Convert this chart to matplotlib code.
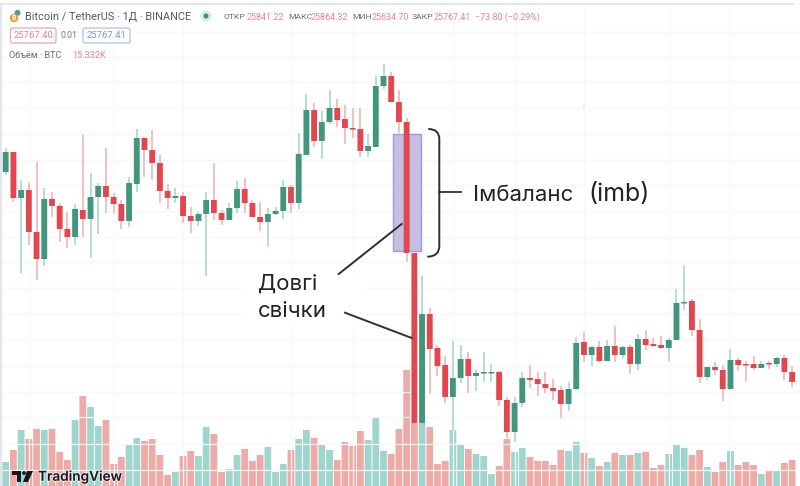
"""TradingView BTC/USDT screenshot with annotated imbalance zone."""

import matplotlib

matplotlib.use("Agg")
import matplotlib.pyplot as plt
import numpy as np
from matplotlib.patches import Circle, FancyBboxPatch, PathPatch, Polygon, Rectangle
from matplotlib.path import Path
import matplotlib.patheffects as pe

# Candle levels were read straight off the picture, so smaller means higher up.
direction = (
    "GRGRRGRRRG" "RGGRRRGGRR" "RRGRRGGRRG" "GRRRGGGRGG" "RGGRRRRGGG"
    "RRRRGRRRGG" "RGGGRRGGRR" "RRRGGRGRGR" "GRGRRRGGGR" "RGRRGRRRGR" "GRR"
)
wick_high = [
    148, 152, 180, 183, 162, 188, 192, 203, 212, 204,
    135, 173, 183, 148, 193, 200, 177, 129, 137, 130,
    155, 184, 188, 192, 207, 212, 192, 163, 210, 203,
    181, 178, 200, 202, 208, 207, 180, 185, 133, 94,
    103, 111, 90, 99, 105, 108, 108, 134, 76, 64,
    72, 90, 118, 253, 276, 308, 345, 356, 341, 345,
    352, 370, 352, 364, 371, 397, 397, 372, 365, 372,
    372, 379, 386, 382, 337, 332, 346, 341, 340, 326,
    346, 345, 334, 330, 338, 336, 338, 289, 265, 299,
    319, 367, 362, 365, 349, 358, 361, 356, 361, 361,
    357, 355, 366,
]
body_top = [
    152, 152, 190, 190, 232, 199, 199, 206, 229, 209,
    210, 197, 186, 186, 197, 204, 183, 138, 138, 150,
    163, 191, 196, 196, 216, 214, 200, 200, 213, 208,
    189, 189, 203, 217, 214, 211, 187, 187, 154, 110,
    110, 122, 108, 108, 119, 128, 129, 146, 86, 76,
    76, 102, 122, 253, 314, 314, 348, 365, 378, 359,
    359, 373, 372, 372, 372, 400, 403, 378, 378, 379,
    384, 388, 390, 389, 343, 342, 347, 347, 346, 346,
    347, 347, 339, 339, 344, 345, 340, 303, 302, 301,
    330, 367, 367, 370, 360, 360, 364, 364, 364, 363,
    358, 358, 372,
]
body_bottom = [
    172, 198, 198, 232, 259, 259, 206, 229, 237, 237,
    219, 219, 197, 197, 204, 221, 221, 184, 150, 163,
    191, 198, 198, 216, 221, 221, 214, 213, 220, 220,
    208, 203, 217, 222, 222, 214, 211, 203, 203, 155,
    141, 141, 122, 120, 128, 129, 151, 151, 147, 86,
    102, 122, 253, 423, 423, 349, 366, 397, 397, 378,
    376, 376, 373, 373, 400, 432, 432, 403, 380, 384,
    388, 391, 404, 404, 389, 355, 355, 361, 361, 355,
    355, 364, 364, 345, 346, 348, 348, 340, 303, 330,
    377, 377, 370, 389, 389, 365, 365, 368, 368, 364,
    364, 372, 382,
]
wick_low = [
    175, 202, 273, 245, 280, 266, 217, 242, 248, 245,
    237, 258, 234, 213, 213, 229, 227, 192, 177, 180,
    203, 209, 203, 223, 233, 226, 276, 220, 225, 220,
    213, 213, 217, 231, 247, 215, 219, 213, 209, 155,
    147, 159, 124, 127, 144, 138, 157, 157, 147, 89,
    102, 133, 262, 444, 433, 394, 376, 403, 430, 383,
    393, 391, 382, 382, 406, 438, 442, 407, 388, 396,
    393, 400, 418, 411, 390, 362, 366, 362, 361, 362,
    358, 374, 370, 350, 347, 349, 361, 340, 310, 336,
    383, 380, 375, 401, 390, 371, 381, 370, 368, 369,
    367, 380, 387,
]
volume = [
    24, 36, 56, 47, 57, 56, 57, 34, 26, 66,
    90, 79, 60, 66, 22, 29, 42, 48, 45, 47,
    31, 11, 14, 30, 35, 30, 59, 52, 14, 17,
    31, 37, 25, 31, 39, 14, 22, 36, 47, 56,
    48, 41, 36, 26, 44, 40, 55, 46, 68, 35,
    32, 57, 116, 63, 63, 59, 22, 25, 56, 41,
    37, 32, 30, 12, 20, 47, 34, 38, 29, 25,
    25, 21, 36, 35, 44, 33, 28, 20, 24, 33,
    31, 31, 33, 34, 18, 21, 32, 41, 38, 31,
    36, 19, 14, 24, 35, 21, 24, 21, 12, 16,
    16, 23, 26,
]
grid_levels = [32, 57, 82, 108, 134, 160, 185, 211, 237, 262, 288, 314, 340, 366, 392, 417, 444, 470]
grid_candles = [3, 14, 23, 37, 45, 58, 66, 75, 86, 94]
imbalance_candles = (50.27, 53.83)
imbalance_levels = (134.3, 251)

RED = "#e2474f"
GREEN = "#42967e"
RED_WICK = "#f3aeb0"
GREEN_WICK = "#a3d4c7"
RED_VOL = "#eeaaa6"
GREEN_VOL = "#a0d5cd"
HEAD_GREY = "#55585f"
LINE = "#2f2f2f"

x = np.arange(len(direction))
wick_colors = [GREEN_WICK if d == "G" else RED_WICK for d in direction]
body_colors = [GREEN if d == "G" else RED for d in direction]
vol_colors = [GREEN_VOL if d == "G" else RED_VOL for d in direction]
xlim = (-0.74, 103.02)

fig = plt.figure(figsize=(8, 4.86), dpi=100, facecolor="white")

ax_vol = fig.add_axes([0, 0, 1, 1], zorder=1)
ax_vol.set_xlim(xlim)
ax_vol.set_ylim(0, 486)
vol_bars = ax_vol.bar(x, volume, width=0.88, color=vol_colors, linewidth=0, zorder=2)
for bar in vol_bars:
    bar.set_snap(False)
ax_vol.axis("off")

ax = fig.add_axes([0, 0, 1, 1], zorder=2)
ax.patch.set_alpha(0)
ax.set_xlim(xlim)
ax.set_ylim(486, 0)
ax.hlines(grid_levels, *xlim, color="#f6f7f9", linewidth=0.9, zorder=0)
ax.vlines(grid_candles, 8, 486, color="#f7f8fa", linewidth=0.9, zorder=0)
ax.add_patch(
    Rectangle(
        (imbalance_candles[0], imbalance_levels[0]),
        imbalance_candles[1] - imbalance_candles[0],
        imbalance_levels[1] - imbalance_levels[0],
        facecolor="#c5bfe3",
        edgecolor="#9c9ae2",
        linewidth=1.0,
        zorder=1,
    )
)
ax.vlines(x, wick_high, wick_low, color=wick_colors, linewidth=1.1, zorder=2)
heights = np.maximum(np.array(body_bottom) - np.array(body_top), 1.5)
bodies = ax.bar(x, heights, bottom=body_top, width=0.76, color=body_colors, linewidth=0, zorder=3)
for bar in bodies:
    bar.set_snap(False)
ax.axis("off")

# Overlay for the screenshot furniture, in picture pixels
ann = fig.add_axes([0, 0, 1, 1], zorder=3)
ann.patch.set_alpha(0)
ann.set_xlim(0, 800)
ann.set_ylim(486, 0)
ann.axis("off")

ann.add_patch(Rectangle((0, 3), 794, 1.6, facecolor="#e4e5f0", linewidth=0))
ann.add_patch(Rectangle((0, 3), 2, 483, facecolor="#e4e5f0", linewidth=0))
ann.add_patch(Circle((584, 106), 0.7, facecolor="#b0b0b0", linewidth=0))

# Annotations
ann.add_patch(Rectangle((243, 275), 122, 50, facecolor="white", linewidth=0))
bracket = Path(
    [(428.3, 129), (439.3, 129), (439.3, 139), (439.3, 246), (439.3, 256.7), (427.3, 256.7)],
    [Path.MOVETO, Path.CURVE3, Path.CURVE3, Path.LINETO, Path.CURVE3, Path.CURVE3],
)
ann.add_patch(PathPatch(bracket, fill=False, edgecolor=LINE, linewidth=1.4))
ann.plot([439.3, 460.7], [192.3, 192.3], color=LINE, linewidth=1.3)
ann.plot([338.7, 401.7], [274, 224], color=LINE, linewidth=1.4)
ann.plot([345, 411.7], [312.7, 338], color=LINE, linewidth=1.4)
ann.text(473, 194.5, "Імбаланс", family="Inter", fontsize=16, color="#222222", va="center")
ann.text(588, 194.5, "(imb)", family="Inter", fontsize=18, color="#222222", va="center")
ann.text(258, 284, "Довгі", family="Inter", fontsize=16, color="#222222", va="center")
ann.text(258, 311, "свічки", family="Inter", fontsize=16, color="#222222", va="center")

# Header
ann.add_patch(Circle((17.5, 12.8), 3, facecolor="#5a9a8c", linewidth=0))
ann.add_patch(Circle((14, 18), 4.2, facecolor="#f0962e", linewidth=0))
ann.text(14, 18.2, "₿", family=["Inter", "Noto Sans", "DejaVu Sans"], fontsize=5,
         color="white", ha="center", va="center", weight="bold")
ann.text(25, 16.5, "Bitcoin / TetherUS · 1Д · BINANCE", family="Roboto", fontsize=7.9,
         color=HEAD_GREY, va="center")
ann.add_patch(Circle((206, 16), 6, facecolor="#dff0ec", linewidth=0))
ann.add_patch(Circle((206, 16), 2.6, facecolor="#3f9680", linewidth=0))

ohlc_labels = [(224, "ОТКР"), (288, "МАКС"), (352, "МИН"), (412, "ЗАКР")]
ohlc_values = [(247, "25841.22"), (311, "25864.32"), (372, "25634.70"), (434, "25767.41"), (475, "−73.80 (−0.29%)")]
for px, label in ohlc_labels:
    ann.text(px, 17, label, family="Roboto", fontsize=6.1, color="#6a6d75", va="center")
for px, value in ohlc_values:
    ann.text(px, 17, value, family="Roboto", fontsize=6.4, color="#ef8088", va="center")

ann.add_patch(FancyBboxPatch((10.5, 28), 45.5, 15, boxstyle="round,pad=0,rounding_size=2",
                             facecolor="white", edgecolor="#f0a5a8", linewidth=0.9))
ann.text(33, 35.7, "25767.40", family="Roboto", fontsize=6.8, color="#ef7f86", ha="center", va="center")
ann.text(69, 35.7, "0.01", family="Roboto", fontsize=6.3, color="#777a82", ha="center", va="center")
ann.add_patch(FancyBboxPatch((83, 28), 47, 15, boxstyle="round,pad=0,rounding_size=2",
                             facecolor="white", edgecolor="#b3bcf5", linewidth=0.9))
ann.text(106.5, 35.7, "25767.41", family="Roboto", fontsize=6.8, color="#7d8ef0", ha="center", va="center")
ann.text(9, 55.5, "Объём · BTC", family="Roboto", fontsize=6.6, color="#6a6d75", va="center")
ann.text(72, 55.5, "15.332K", family="Roboto", fontsize=6.6, color="#ef8088", va="center")

# TradingView logo
halo = [pe.withStroke(linewidth=1.5, foreground=(1, 1, 1, 0.6))]
ann.add_patch(Polygon([(12, 471), (21, 471), (21, 482), (17, 482), (17, 475), (12, 475)], facecolor="#131722", linewidth=0))
ann.add_patch(Circle((24, 473), 1.9, facecolor="#131722", linewidth=0))
ann.add_patch(Polygon([(27, 471), (33, 471), (28, 482), (23, 482)], facecolor="#131722", linewidth=0))
ann.text(38, 476.5, "TradingView", family="Inter", fontsize=9.8, weight="semibold", color="#1a1d26",
         va="center", path_effects=halo)

fig.savefig("out.png", dpi=100)
